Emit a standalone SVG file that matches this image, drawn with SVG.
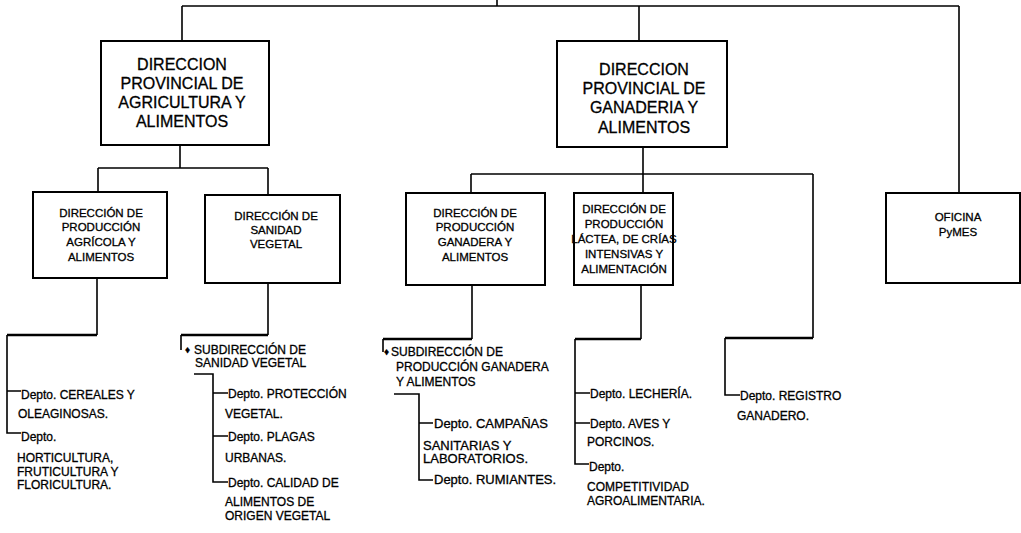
<svg xmlns="http://www.w3.org/2000/svg" width="1021" height="533" viewBox="0 0 1021 533">
<style>
.box{fill:#fff;stroke:#000;stroke-width:2}
.ln{fill:none;stroke:#000;stroke-width:1.6}
.thk{fill:none;stroke:#000;stroke-width:2.6}
text{font-family:"Liberation Sans",Arial,sans-serif;fill:#000;stroke:#000;stroke-width:0.3}
.big{font-size:16px;text-anchor:middle}
.mid{font-size:11.5px;text-anchor:middle}
.dep{font-size:12px}
.dep13{font-size:13px}
.bul{font-size:10px}
</style>
<rect width="1021" height="533" fill="#fff"/>
<g id="connectors">
<path class="ln" d="M497,0 V6 M182,6 H959 M182,6 V41 M639,6 V41 M959,6 V193"/>
<path class="ln" d="M180,145 V168 M98,168 H268 M98,168 V192 M268,168 V195"/>
<path class="ln" d="M643,147 V193 M471,174 H813 M471,174 V193 M813,174 V338"/>
<path class="ln" d="M97,278 V335 M7,335 V433 H21 M7,391 H21"/>
<path class="thk" d="M7,335 H97"/>
<path class="ln" d="M268,283 V335 M181,335 V350 M194,374 H213 V482 H228 M213,393 H228 M213,436 H228"/>
<path class="thk" d="M181,335 H268"/>
<path class="ln" d="M472,285 V339 M383,339 V352 M394,394 H419 V480 H433 M419,423 H433"/>
<path class="thk" d="M383,339 H472"/>
<path class="ln" d="M641,285 V339 M575,339 V464 H589 M575,393 H590 M575,423 H590"/>
<path class="thk" d="M575,339 H641"/>
<path class="ln" d="M725,338 V395 H740"/>
<path class="thk" d="M725,338 H813"/>
</g>
<g id="dp-agricultura">
<rect class="box" x="101" y="41" width="168" height="104"/>
<text class="big" x="182" y="70">DIRECCION</text>
<text class="big" x="182" y="89">PROVINCIAL DE</text>
<text class="big" x="182" y="108">AGRICULTURA Y</text>
<text class="big" x="182" y="127">ALIMENTOS</text>
</g>
<g id="dp-ganaderia">
<rect class="box" x="557" y="41" width="170" height="106"/>
<text class="big" x="644" y="75">DIRECCION</text>
<text class="big" x="644" y="94">PROVINCIAL DE</text>
<text class="big" x="644" y="113">GANADERIA Y</text>
<text class="big" x="644" y="133">ALIMENTOS</text>
</g>
<g id="d-agricola">
<rect class="box" x="33" y="192" width="134" height="86"/>
<text class="mid" x="101" y="217">DIRECCIÓN DE</text>
<text class="mid" x="101" y="231">PRODUCCIÓN</text>
<text class="mid" x="101" y="246">AGRÍCOLA Y</text>
<text class="mid" x="101" y="261">ALIMENTOS</text>
</g>
<g id="d-sanidad">
<rect class="box" x="205" y="195" width="135" height="88"/>
<text class="mid" x="276" y="220">DIRECCIÓN DE</text>
<text class="mid" x="276" y="234">SANIDAD</text>
<text class="mid" x="276" y="248">VEGETAL</text>
</g>
<g id="d-ganadera">
<rect class="box" x="406" y="193" width="139" height="92"/>
<text class="mid" x="475" y="217">DIRECCIÓN DE</text>
<text class="mid" x="475" y="231">PRODUCCIÓN</text>
<text class="mid" x="475" y="246">GANADERA Y</text>
<text class="mid" x="475" y="261">ALIMENTOS</text>
</g>
<g id="d-lactea">
<rect class="box" x="574" y="193" width="99" height="92"/>
<text class="mid" x="624" y="213">DIRECCIÓN DE</text>
<text class="mid" x="624" y="228">PRODUCCIÓN</text>
<text class="mid" x="624" y="243">LÁCTEA, DE CRÍAS</text>
<text class="mid" x="624" y="258">INTENSIVAS Y</text>
<text class="mid" x="624" y="273">ALIMENTACIÓN</text>
</g>
<g id="oficina-pymes">
<rect class="box" x="886" y="193" width="134" height="90"/>
<text class="mid" x="958" y="221">OFICINA</text>
<text class="mid" x="958" y="236">PyMES</text>
</g>
<g id="deptos-agricola">
<text class="dep" x="21" y="399">Depto. CEREALES Y</text>
<text class="dep" x="18" y="418">OLEAGINOSAS.</text>
<text class="dep" x="21" y="441">Depto.</text>
<text class="dep" x="17" y="462">HORTICULTURA,</text>
<text class="dep" x="17" y="476">FRUTICULTURA Y</text>
<text class="dep" x="17" y="489">FLORICULTURA.</text>
</g>
<g id="sub-sanidad">
<text class="bul" x="185" y="353">♦</text>
<text class="dep" x="194" y="354">SUBDIRECCIÓN DE</text>
<text class="dep" x="195" y="367">SANIDAD VEGETAL</text>
<text class="dep" x="228" y="398">Depto. PROTECCIÓN</text>
<text class="dep" x="225" y="418">VEGETAL.</text>
<text class="dep" x="228" y="441">Depto. PLAGAS</text>
<text class="dep" x="225" y="462">URBANAS.</text>
<text class="dep" x="228" y="487">Depto. CALIDAD DE</text>
<text class="dep" x="225" y="506">ALIMENTOS DE</text>
<text class="dep" x="225" y="520">ORIGEN VEGETAL</text>
</g>
<g id="sub-ganadera">
<text class="bul" x="384" y="355">♦</text>
<text class="dep" x="391" y="356">SUBDIRECCIÓN DE</text>
<text class="dep" x="396" y="371">PRODUCCIÓN GANADERA</text>
<text class="dep" x="396" y="386">Y ALIMENTOS</text>
<text class="dep13" x="434" y="428">Depto. CAMPAÑAS</text>
<text class="dep13" x="423" y="450">SANITARIAS Y</text>
<text class="dep13" x="423" y="463">LABORATORIOS.</text>
<text class="dep13" x="434" y="484">Depto. RUMIANTES.</text>
</g>
<g id="deptos-lactea">
<text class="dep" x="590" y="398">Depto. LECHERÍA.</text>
<text class="dep" x="590" y="428">Depto. AVES Y</text>
<text class="dep" x="587" y="446">PORCINOS.</text>
<text class="dep" x="589" y="471">Depto.</text>
<text class="dep" x="587" y="491">COMPETITIVIDAD</text>
<text class="dep" x="587" y="505">AGROALIMENTARIA.</text>
</g>
<g id="depto-registro">
<text class="dep" x="740" y="400">Depto. REGISTRO</text>
<text class="dep" x="737" y="420">GANADERO.</text>
</g>
</svg>
